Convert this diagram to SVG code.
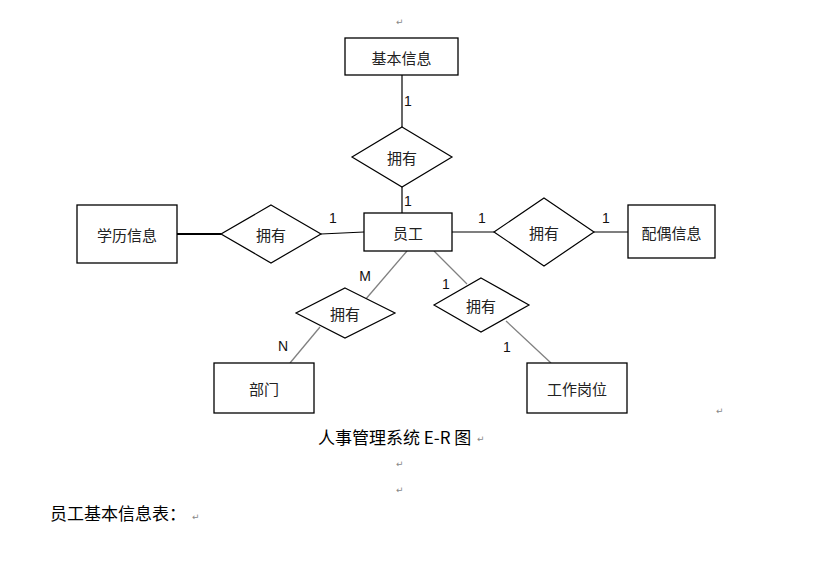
<svg xmlns="http://www.w3.org/2000/svg" width="829" height="579" viewBox="0 0 829 579">
<style>
.box{fill:#fff;stroke:#000;stroke-width:1.3}
.dia{fill:#fff;stroke:#000;stroke-width:1.2}
.t{font-family:"Noto Sans CJK SC","Liberation Sans",sans-serif;font-size:15px;fill:#222;text-anchor:middle;dominant-baseline:central}
.lbl{font-family:"Liberation Sans",sans-serif;font-size:14px;fill:#111;text-anchor:middle;dominant-baseline:central}
.ln{stroke:#000;stroke-width:1.2;fill:none}
.gl{stroke:#808080;stroke-width:1.3;fill:none}
.pm{font-family:"DejaVu Sans",sans-serif;font-size:9px;fill:#888}
.cap{font-family:"Noto Sans CJK SC","Liberation Sans",sans-serif;font-size:17px;fill:#000}
</style>
<rect width="829" height="579" fill="#fff"/>
<g id="connectors">
<line class="ln" x1="402" y1="75" x2="402" y2="127"/>
<line class="ln" x1="402" y1="187" x2="402" y2="213"/>
<line class="ln" x1="177" y1="234" x2="221" y2="234" style="stroke-width:2.2"/>
<line class="ln" x1="321" y1="234" x2="364" y2="232"/>
<line class="ln" x1="452" y1="232" x2="494" y2="232"/>
<line class="ln" x1="594" y1="232" x2="628" y2="232"/>
<line class="gl" x1="407" y1="251" x2="365" y2="300"/>
<line class="gl" x1="320" y1="327" x2="290" y2="363"/>
<line class="gl" x1="434" y1="251" x2="467" y2="284"/>
<line class="gl" x1="506" y1="321" x2="551" y2="363"/>
<text class="lbl" x="408" y="101">1</text>
<text class="lbl" x="408" y="201">1</text>
<text class="lbl" x="333" y="218">1</text>
<text class="lbl" x="482" y="218">1</text>
<text class="lbl" x="606" y="218">1</text>
<text class="lbl" x="365" y="276">M</text>
<text class="lbl" x="283" y="346">N</text>
<text class="lbl" x="446" y="284">1</text>
<text class="lbl" x="507" y="347">1</text>
</g>
<g id="n-jiben"><rect class="box" x="345" y="38" width="113" height="37"/><text class="t" x="401.5" y="57">基本信息</text></g>
<g id="r-top"><polygon class="dia" points="402,127 452,157 402,187 352,157"/><text class="t" x="402" y="157">拥有</text></g>
<g id="n-yuangong"><rect class="box" x="364" y="213" width="88" height="38"/><text class="t" x="408" y="232">员工</text></g>
<g id="n-xueli"><rect class="box" x="77" y="205" width="100" height="58"/><text class="t" x="127" y="234">学历信息</text></g>
<g id="r-left"><polygon class="dia" points="271,205 321,234 271,263 221,234"/><text class="t" x="271" y="234">拥有</text></g>
<g id="r-right"><polygon class="dia" points="544,198 594,232 544,266 494,232"/><text class="t" x="544" y="232">拥有</text></g>
<g id="n-peiou"><rect class="box" x="628" y="205" width="87" height="53"/><text class="t" x="671.5" y="232">配偶信息</text></g>
<g id="r-dept"><polygon class="dia" points="345,288 395,313 345,338 296,313"/><text class="t" x="345" y="313">拥有</text></g>
<g id="n-bumen"><rect class="box" x="214" y="363" width="100" height="50"/><text class="t" x="264" y="388">部门</text></g>
<g id="r-job"><polygon class="dia" points="481,278 529,305 481,332 434,305"/><text class="t" x="481" y="305">拥有</text></g>
<g id="n-gangwei"><rect class="box" x="527" y="363" width="100" height="50"/><text class="t" x="577" y="388">工作岗位</text></g>
<text class="cap" x="318" y="444">人事管理系统 E-R 图</text>
<text class="cap" x="50" y="520">员工基本信息表：</text>
<text class="pm" x="396" y="25">↵</text>
<text class="pm" x="716" y="414">↵</text>
<text class="pm" x="477" y="442">↵</text>
<text class="pm" x="396" y="467">↵</text>
<text class="pm" x="396" y="493">↵</text>
<text class="pm" x="192" y="520">↵</text>
</svg>
